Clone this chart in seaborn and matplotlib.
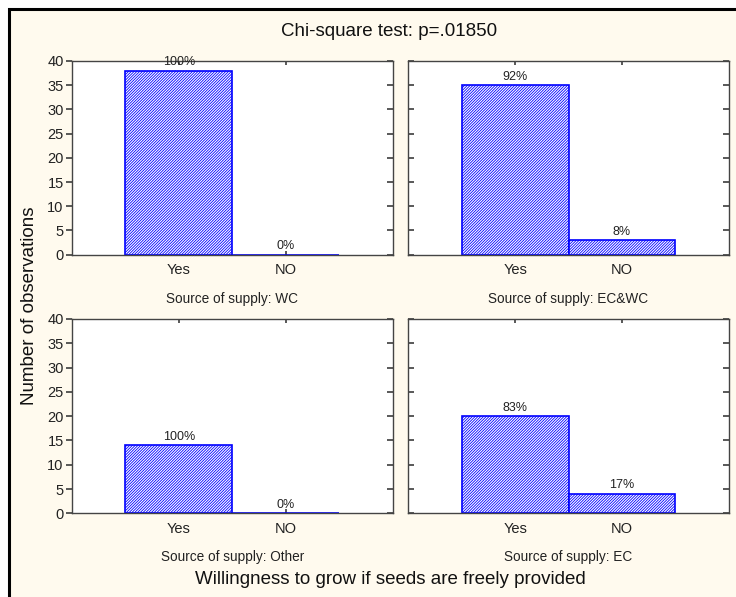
import matplotlib
matplotlib.use("Agg")
import matplotlib.pyplot as plt
import seaborn as sns
import pandas as pd
from matplotlib.patches import Rectangle

# Counts of answers per source of supply
answers = ["Yes", "NO"]
wc_counts = [38, 0]
ecwc_counts = [35, 3]
other_counts = [14, 0]
ec_counts = [20, 4]
wc_pct = ["100%", "0%"]
ecwc_pct = ["92%", "8%"]
other_pct = ["100%", "0%"]
ec_pct = ["83%", "17%"]
panel_titles = ["Source of supply: WC", "Source of supply: EC&WC",
                "Source of supply: Other", "Source of supply: EC"]
y_ticks = [0, 5, 10, 15, 20, 25, 30, 35, 40]

sns.set_theme(style="white")
plt.rcParams["font.family"] = ["Liberation Sans", "DejaVu Sans"]
plt.rcParams["hatch.linewidth"] = 0.6

BG = "#FFFAEE"
BLUE = "#0000FF"
AXC = "#444444"
TXT = "#222222"

fig = plt.figure(figsize=(7.36, 5.97), dpi=100)
fig.patch.set_facecolor("white")

W, H = 736.0, 597.0
def box(l, t, r, b):
    return [l / W, 1 - b / H, (r - l) / W, (b - t) / H]

# Cream panel behind everything, inside the frame
fig.add_artist(Rectangle((8.5 / W, -0.05), 1.2, 1 - 8.5 / H + 0.05,
                         transform=fig.transFigure, facecolor=BG,
                         edgecolor="none", zorder=-10))

positions = [box(72, 61, 392.7, 254.7), box(408.3, 61, 728.7, 254.7),
             box(72, 319, 392.7, 513.3), box(408.3, 319, 728.7, 513.3)]
counts = [wc_counts, ecwc_counts, other_counts, ec_counts]
pcts = [wc_pct, ecwc_pct, other_pct, ec_pct]

for i, (pos, vals, labels, ttl) in enumerate(zip(positions, counts, pcts, panel_titles)):
    ax = fig.add_axes(pos)
    ax.set_facecolor("white")
    df = pd.DataFrame({"answer": answers, "count": vals})
    sns.barplot(data=df, x="answer", y="count", ax=ax, width=1.0,
                color="white", edgecolor=BLUE, linewidth=1.2,
                hatch="/" * 12, saturation=1)
    for p in ax.patches:
        p.set_facecolor("white")
        p.set_edgecolor(BLUE)
    for xi, (v, lab) in enumerate(zip(vals, labels)):
        ax.text(xi, v + 0.5, lab, ha="center", va="bottom", fontsize=9,
                color=TXT)
    ax.set_xlim(-1, 2)
    ax.set_ylim(0, 40)
    ax.set_yticks(y_ticks)
    ax.set_xlabel("")
    ax.set_ylabel("")
    for s in ax.spines.values():
        s.set_color(AXC)
        s.set_linewidth(1.0)
    ax.tick_params(axis="x", direction="in", top=True, bottom=True,
                   length=3, color=AXC, labelsize=10.5, pad=6,
                   labelcolor=TXT)
    left_col = (i % 2 == 0)
    ax.tick_params(axis="y", which="both", left=True, right=True,
                   length=4, color=AXC, labelsize=10.5, labelcolor=TXT,
                   direction="in", pad=2)
    if left_col:
        ax.tick_params(axis="y", direction="out", labelleft=True)
        for t in ax.yaxis.get_major_ticks():
            t.tick2line.set_marker(matplotlib.lines.TICKLEFT)
    else:
        ax.tick_params(axis="y", labelleft=False)
    ax.set_title(ttl, y=-0.29, fontsize=9.8, color=TXT)

fig.text(389 / W, 1 - 32 / H, "Chi-square test: p=.01850", ha="center",
         va="center", fontsize=13.5, color="#111111")
fig.text(390 / W, 1 - 579 / H, "Willingness to grow if seeds are freely provided",
         ha="center", va="center", fontsize=13.5, color="#111111")
fig.text(30 / W, 1 - 306 / H, "Number of observations", rotation=90,
         ha="center", va="center", fontsize=13.5, color="#111111")

# Outer frame
fig.add_artist(Rectangle((8.5 / W, -0.05), 1.2, 1 - 8.5 / H + 0.05,
                         transform=fig.transFigure, fill=False,
                         edgecolor="black", linewidth=2.2))

fig.savefig("out.png", dpi=100, facecolor="white")
